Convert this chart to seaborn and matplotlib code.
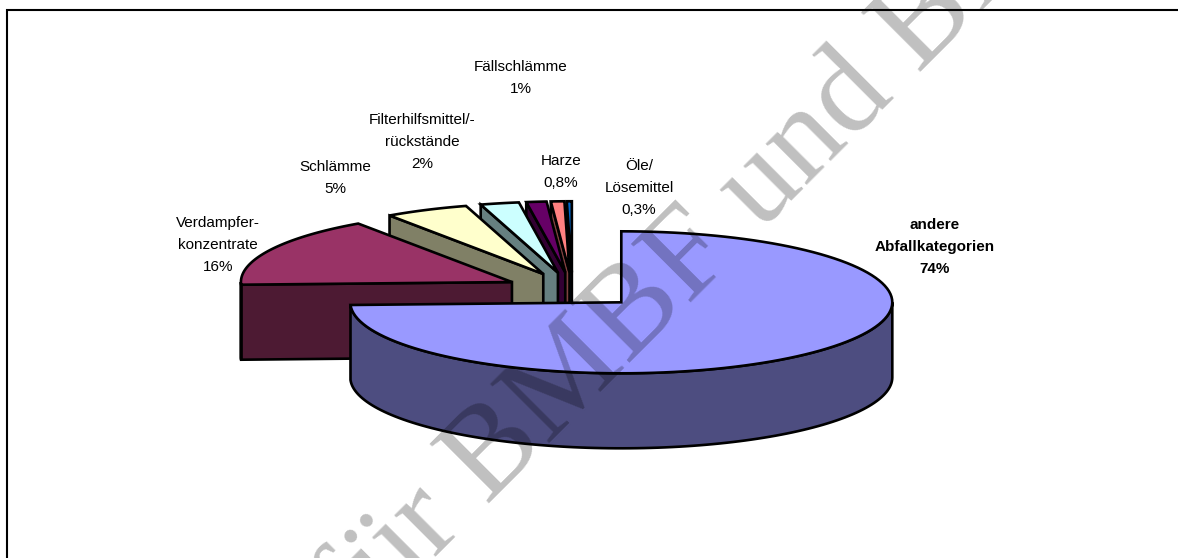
import numpy as np
import matplotlib
matplotlib.use('Agg')
import matplotlib.pyplot as plt
from matplotlib.patches import Polygon, Rectangle
import seaborn as sns

# Data, clockwise from 12 o'clock (percent, a bit finer than the rounded labels)
categories = ['andere\nAbfallkategorien', 'Verdampfer-\nkonzentrate', 'Schlämme',
              'Filterhilfsmittel/-\nrückstände', 'Fällschlämme', 'Harze', 'Öle/\nLösemittel']
shares = [74.4, 16.0, 5.0, 2.3, 1.2, 0.8, 0.3]
share_labels = ['74%', '16%', '5%', '2%', '1%', '0,8%', '0,3%']
top_colors = ['#9999FF', '#993366', '#FFFFCC', '#CCFFFF', '#660066', '#FF8080', '#0066CC']
side_colors = ['#4D4D80', '#4D1A33', '#808066', '#668080', '#330033', '#804040', '#003366']

sns.set_theme(style='white')
plt.rcParams['font.family'] = ['Liberation Sans', 'DejaVu Sans']

# Pie layout in pixels
CX, CY = 572.5, 290
RX, RY = 271, 71
DEPTH = 75
EXPLODE = 0.25
LW = 1.9

# Label centres in pixels
label_xy = [(935, 247), (218, 245), (335, 178), (422, 142), (521, 78), (561, 172), (639, 188)]

fig = plt.figure(figsize=(11.78, 5.58), dpi=100)
ax = fig.add_axes([0, 0, 1, 1])
ax.set_xlim(0, 1178)
ax.set_ylim(558, 0)
ax.axis('off')

# Page frame, runs off at the right and the bottom
ax.add_patch(Rectangle((7, 10), 1300, 700, fc='white', ec='black', lw=1.5, zorder=0))

tops = sns.color_palette(top_colors)
sides = sns.color_palette(side_colors)


def point(apex, phi):
    return apex[0] + RX * np.sin(phi), apex[1] - RY * np.cos(phi)


def arc(apex, a, b):
    phi = np.linspace(a, b, 120)
    return np.column_stack(point(apex, phi))


def draw_slice(a, b, i, z):
    mx, my = point((CX, CY), (a + b) / 2)
    apex = (CX + EXPLODE * (mx - CX), CY + EXPLODE * (my - CY))
    down = np.array([0, DEPTH])
    style = dict(ec='black', lw=LW, joinstyle='miter', zorder=z)
    # flat wall on the cut at the slice start, only for the slices on the left
    if a > np.pi:
        p0 = np.array(apex)
        p1 = np.array(point(apex, a))
        ax.add_patch(Polygon([p0, p1, p1 + down, p0 + down], fc=sides[i], **style))
    # outer wall for the part of the rim that faces the viewer
    lo, hi = max(a, np.pi / 2), min(b, 3 * np.pi / 2)
    if hi > lo:
        rim = arc(apex, lo, hi)
        ax.add_patch(Polygon(np.vstack([rim, rim[::-1] + down]), fc=sides[i], **style))
    # top face
    ax.add_patch(Polygon(np.vstack([[apex], arc(apex, a, b)]), fc=tops[i], **style))


edges = np.radians(np.concatenate([[0], np.cumsum(shares)]) * 360 / sum(shares))
# back slices first, the big front slice last
for z, i in enumerate(range(len(shares) - 1, -1, -1)):
    draw_slice(edges[i], edges[i + 1], i, z + 2)

for i, (cat, lab, (x, y)) in enumerate(zip(categories, share_labels, label_xy)):
    ax.text(x, y, cat + '\n' + lab, ha='center', va='center', fontsize=11, color='black',
            fontweight='bold' if i == 0 else 'normal', linespacing=1.7, zorder=40)

# Watermark, darkens the chart under it like in the original
ax.text(359, 633, 'für BMBF und BfS', family='Liberation Serif', fontsize=92, rotation=45,
        rotation_mode='anchor', ha='left', va='baseline', color='black', alpha=0.25, zorder=50)

fig.savefig('out.png', dpi=100)
